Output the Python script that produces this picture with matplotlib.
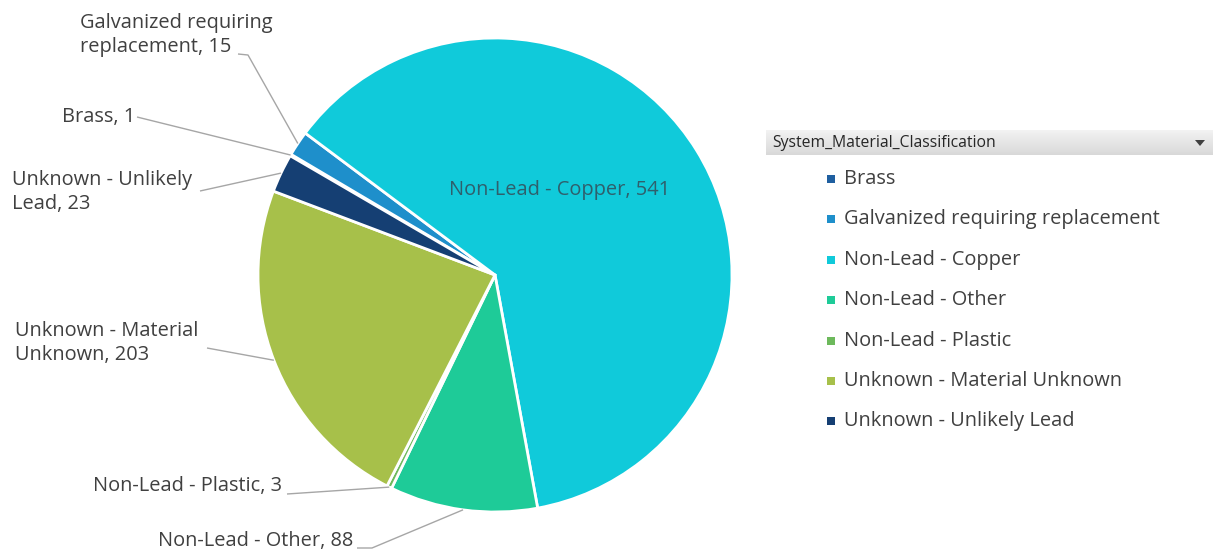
import numpy as np
import matplotlib
matplotlib.use("Agg")
import matplotlib.pyplot as plt
from matplotlib.patches import Rectangle, Polygon

# --- data -------------------------------------------------------------
categories = [
    "Brass",
    "Galvanized requiring replacement",
    "Non-Lead - Copper",
    "Non-Lead - Other",
    "Non-Lead - Plastic",
    "Unknown - Material Unknown",
    "Unknown - Unlikely Lead",
]
counts = [1, 15, 541, 88, 3, 203, 23]
slice_colors = ["#1F5FA0", "#1E8FCB", "#10CADA", "#1ECB98", "#6DB95C", "#A7C04A", "#153F73"]
data_labels = [
    "Brass, 1",
    "Galvanized requiring\nreplacement, 15",
    "Non-Lead - Copper, 541",
    "Non-Lead - Other, 88",
    "Non-Lead - Plastic, 3",
    "Unknown - Material\nUnknown, 203",
    "Unknown - Unlikely\nLead, 23",
]
legend_title = "System_Material_Classification"

# --- figure (axes in pixel units, y measured upward) -------------------
W, H = 1217, 552
fig = plt.figure(figsize=(W / 100, H / 100), dpi=100)
fig.patch.set_facecolor("white")
ax = fig.add_axes([0, 0, 1, 1])

FONT = "Open Sans"
TXT = "#404040"
LINE = "#A6A6A6"
FS = 14.4


def py(y):
    """Convert a top-down pixel row into the axes' upward y value."""
    return H - y


cx, cy, R = 495, py(275), 237
wedges, _ = ax.pie(
    counts,
    colors=slice_colors,
    startangle=149.8,
    counterclock=False,
    center=(cx, cy),
    radius=R,
    wedgeprops=dict(edgecolor="white", linewidth=2),
)
ax.set_xlim(0, W)
ax.set_ylim(0, H)
ax.set_aspect("equal")
ax.axis("off")


def edge_point(w):
    mid = np.deg2rad((w.theta1 + w.theta2) / 2)
    return cx + R * np.cos(mid), cy + R * np.sin(mid)


# label placement: (x, y, ha, leader-line start points) in pixel rows
label_layout = {
    "Brass": (62, 117, "left", [(137, 117)]),
    "Galvanized requiring replacement": (80, 35, "left", [(238, 54), (248, 55)]),
    "Non-Lead - Copper": (560, 190, "center", None),
    "Non-Lead - Other": (353, 541, "right", [(357, 548), (372, 548)]),
    "Non-Lead - Plastic": (282, 486, "right", [(287, 494)]),
    "Unknown - Material Unknown": (15, 343, "left", [(207, 348)]),
    "Unknown - Unlikely Lead": (12, 192, "left", [(200, 191)]),
}

for cat, lab, w in zip(categories, data_labels, wedges):
    x, y, ha, pts = label_layout[cat]
    color = "#2F5F6C" if pts is None else TXT
    ax.text(x, py(y), lab, ha=ha, va="center", fontsize=FS, family=FONT,
            color=color, linespacing=1.3)
    if pts is not None:
        ex, ey = edge_point(w)
        xs = [p[0] for p in pts] + [ex]
        ys = [py(p[1]) for p in pts] + [ey]
        ax.plot(xs, ys, color=LINE, lw=1, solid_capstyle="butt")

# --- legend ------------------------------------------------------------
hx0, hx1, hy0, hy1 = 766, 1213, 130, 155
grad = np.linspace(0.95, 0.85, 32).reshape(-1, 1)
ax.imshow(np.dstack([grad, grad, grad]), extent=(hx0, hx1, py(hy1), py(hy0)),
          aspect="auto", zorder=1, interpolation="bilinear")
ax.set_xlim(0, W)
ax.set_ylim(0, H)
ax.text(772, py(143), legend_title, ha="left", va="center", fontsize=11.3,
        family=FONT, color="#262626", zorder=2)
ax.add_patch(Polygon([(1195, py(140)), (1205, py(140)), (1200, py(146))],
                     closed=True, facecolor="#404040", edgecolor="none", zorder=2))

item_y0, item_dy = 179, 40.4
for i, (cat, col) in enumerate(zip(categories, slice_colors)):
    yy = item_y0 + i * item_dy
    ax.add_patch(Rectangle((827, py(yy) - 4), 8, 8, facecolor=col,
                           edgecolor="none", zorder=2))
    ax.text(844, py(yy), cat, ha="left", va="center", fontsize=FS,
            family=FONT, color=TXT, zorder=2)

fig.savefig("out.png", dpi=100, facecolor="white")
